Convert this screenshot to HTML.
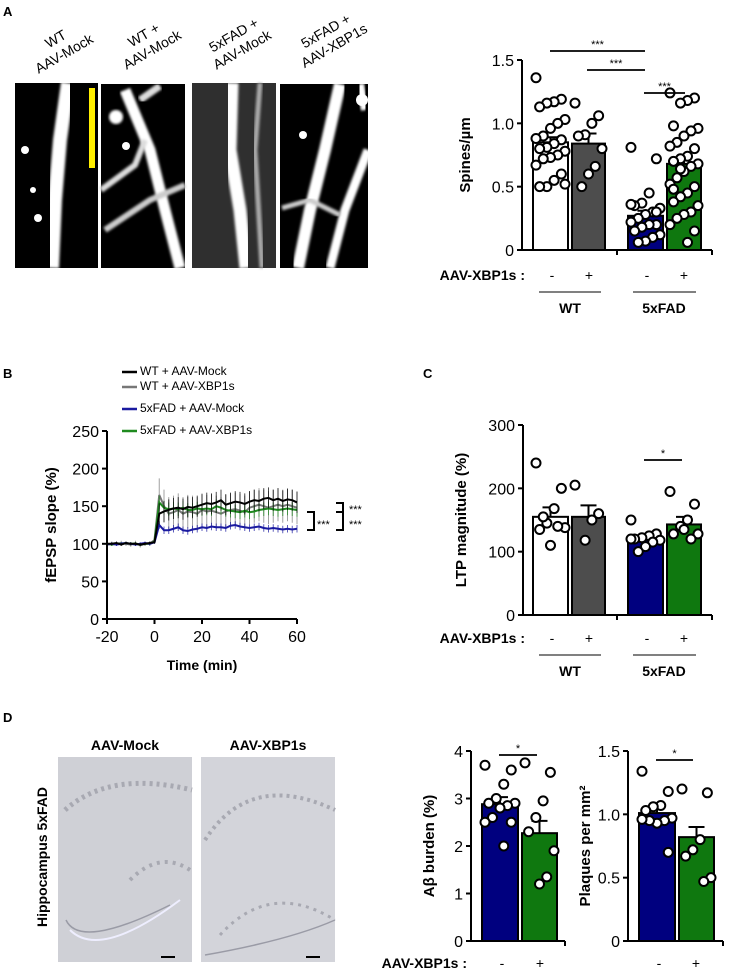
<!DOCTYPE html>
<html><head><meta charset="utf-8"><style>
body{margin:0;background:#fff}
svg{display:block;font-family:"Liberation Sans",Arial,sans-serif}
</style></head><body>
<svg id="fig" width="729" height="973" viewBox="0 0 729 973" xmlns="http://www.w3.org/2000/svg">
<defs><filter id="bl" x="-10%" y="-10%" width="120%" height="120%"><feGaussianBlur stdDeviation="1.2"/></filter></defs>
<text x="3" y="16" font-size="13" font-weight="bold">A</text>
<text x="3" y="378" font-size="13" font-weight="bold">B</text>
<text x="423" y="378" font-size="13" font-weight="bold">C</text>
<text x="3" y="722" font-size="13" font-weight="bold">D</text>

<g font-size="14">
<text transform="translate(62,50) rotate(-30)" text-anchor="middle"><tspan x="0" dy="-8">WT</tspan><tspan x="0" dy="17">AAV-Mock</tspan></text>
<text transform="translate(150,46) rotate(-30)" text-anchor="middle"><tspan x="0" dy="-8">WT +</tspan><tspan x="0" dy="17">AAV-Mock</tspan></text>
<text transform="translate(240,46) rotate(-30)" text-anchor="middle"><tspan x="0" dy="-8">5xFAD +</tspan><tspan x="0" dy="17">AAV-Mock</tspan></text>
<text transform="translate(332,42) rotate(-30)" text-anchor="middle"><tspan x="0" dy="-8">5xFAD +</tspan><tspan x="0" dy="17">AAV-XBP1s</tspan></text>
</g>
<g>
<rect x="15" y="83" width="83" height="185" fill="#000"/>
<path d="M68 83 L60 140 L55 200 L52 268" stroke="#fff" stroke-width="14" fill="none" filter="url(#bl)"/>
<circle cx="25" cy="150" r="4" fill="#fff"/><circle cx="33" cy="190" r="3" fill="#fff"/><circle cx="38" cy="218" r="4" fill="#fff"/>
<rect x="89" y="88" width="6" height="80" fill="#ffee00"/>
</g>
<g>
<rect x="101" y="84" width="84" height="184" fill="#000"/>
<path d="M125 90 L150 150 L165 210 L180 268" stroke="#fff" stroke-width="11" fill="none" filter="url(#bl)"/>
<path d="M101 190 L135 165 L145 140" stroke="#ddd" stroke-width="6" fill="none" filter="url(#bl)"/>
<path d="M105 230 L150 200 L185 185" stroke="#ccc" stroke-width="6" fill="none" filter="url(#bl)"/>
<path d="M140 100 L160 86" stroke="#ddd" stroke-width="7" fill="none" filter="url(#bl)"/>
<circle cx="116" cy="117" r="7" fill="#fff" filter="url(#bl)"/><circle cx="126" cy="146" r="4" fill="#fff"/>
</g>
<g>
<rect x="192" y="83" width="84" height="185" fill="#111"/>
<rect x="192" y="83" width="84" height="185" fill="#777" opacity="0.3"/>
<path d="M232 83 L230 150 L240 210 L246 268" stroke="#fff" stroke-width="13" fill="none" filter="url(#bl)"/>
<path d="M260 83 L255 150 L262 268" stroke="#aaa" stroke-width="5" fill="none" filter="url(#bl)"/>
</g>
<g>
<rect x="280" y="84" width="88" height="184" fill="#000"/>
<path d="M340 84 L325 150 L310 210 L298 268" stroke="#fff" stroke-width="12" fill="none" filter="url(#bl)"/>
<path d="M368 150 L345 210 L330 268" stroke="#fff" stroke-width="9" fill="none" filter="url(#bl)"/>
<path d="M360 84 L365 110" stroke="#fff" stroke-width="8" fill="none" filter="url(#bl)"/>
<circle cx="303" cy="135" r="4" fill="#fff"/><circle cx="362" cy="100" r="6" fill="#fff"/>
<path d="M282 208 L310 200 L340 215" stroke="#ccc" stroke-width="5" fill="none" filter="url(#bl)"/>
</g>

<text x="125" y="750" font-size="14" font-weight="bold" text-anchor="middle">AAV-Mock</text>
<text x="268" y="750" font-size="14" font-weight="bold" text-anchor="middle">AAV-XBP1s</text>
<text transform="translate(47,857) rotate(-90)" font-size="14" font-weight="bold" text-anchor="middle">Hippocampus 5xFAD</text>
<g>
<rect x="58" y="757" width="134" height="205" fill="#cfd0d6"/>
<path d="M65 810 Q110 770 192 790" stroke="#a8a9b2" stroke-width="5" fill="none" stroke-dasharray="3 4"/>
<path d="M130 880 Q160 850 190 870" stroke="#a8a9b2" stroke-width="4" fill="none" stroke-dasharray="3 5"/>
<path d="M70 930 Q100 960 180 900" stroke="#eef" stroke-width="2" fill="none"/>
<path d="M66 920 Q80 950 170 905" stroke="#9a9ba6" stroke-width="1.5" fill="none"/>
<rect x="161" y="956" width="14" height="2" fill="#000"/>
</g>
<g>
<rect x="201" y="757" width="134" height="205" fill="#d3d4da"/>
<path d="M205 840 Q250 770 335 810" stroke="#a8a9b2" stroke-width="4" fill="none" stroke-dasharray="3 4"/>
<path d="M220 935 Q270 880 335 920" stroke="#a8a9b2" stroke-width="3" fill="none" stroke-dasharray="3 5"/>
<path d="M205 955 Q290 940 335 920" stroke="#9a9ba6" stroke-width="1.5" fill="none"/>
<rect x="306" y="956" width="14" height="2" fill="#000"/>
</g>
<g id="charts"></g>
</svg>
<script>
const aCategories = ["WT-Mock","WT-XBP1s","5xFAD-Mock","5xFAD-XBP1s"];
const aMeans = [0.85, 0.84, 0.27, 0.68];
const aSems = [0.04, 0.08, 0.04, 0.05];
const aDotsWT = [1.36,1.19,1.17,1.16,1.13,1.03,1.0,0.96,0.9,0.88,0.87,0.84,0.81,0.8,0.78,0.75,0.73,0.72,0.67,0.6,0.55,0.5,0.5,0.52];
const aDotsWTX = [1.16,1.06,1.0,0.91,0.9,0.8,0.66,0.6,0.5];
const aDotsFAD = [0.81,0.72,0.45,0.37,0.35,0.33,0.3,0.28,0.25,0.22,0.2,0.2,0.18,0.15,0.12,0.1,0.07,0.06,0.36,0.3];
const aDotsFADX = [1.24,1.2,1.18,1.16,0.98,0.96,0.94,0.9,0.85,0.82,0.8,0.74,0.72,0.7,0.68,0.66,0.62,0.57,0.52,0.5,0.45,0.42,0.38,0.35,0.3,0.28,0.25,0.2,0.15,0.06,0.64,0.48];
const aTicks = ["0","0.5","1.0","1.5"];
const aTickVals = [0, 0.5, 1.0, 1.5];
const cMeans = [155, 155, 120, 143];
const cSems = [15, 18, 6, 12];
const cDotsWT = [240,200,168,145,135,138,140,110,155];
const cDotsWTX = [205,160,150,118];
const cDotsFAD = [150,128,125,122,120,118,115,108,100,120];
const cDotsFADX = [195,175,150,140,128,128,120,135];
const cTicks = ["0","100","200","300"];
const cTickVals = [0, 100, 200, 300];
const dAbMeans = [2.88, 2.27];
const dAbSems = [0.15, 0.26];
const dAbDotsMock = [3.7,3.6,3.3,3.0,2.9,2.9,2.85,2.8,2.6,2.5,2.5,2.0];
const dAbDotsX = [3.75,3.55,2.95,2.6,2.3,1.9,1.35,1.2];
const dAbTicks = ["0","1","2","3","4"];
const dAbTickVals = [0,1,2,3,4];
const dPlMeans = [1.01, 0.82];
const dPlSems = [0.06, 0.08];
const dPlDotsMock = [1.34,1.18,1.07,1.06,1.03,0.97,0.95,0.93,0.95,0.96,0.7];
const dPlDotsX = [1.2,1.17,0.8,0.72,0.67,0.5,0.47];
const dPlTicks = ["0","0.5","1.0","1.5"];
const dPlTickVals = [0,0.5,1.0,1.5];
const bTime = [-20,-18,-16,-14,-12,-10,-8,-6,-4,-2,0,2,4,6,8,10,12,14,16,18,20,22,24,26,28,30,32,34,36,38,40,42,44,46,48,50,52,54,56,58,60];
const bWTMock = [100,100,101,99,101,100,100,99,100,101,102,140,143,145,147,148,146,149,148,150,152,154,153,155,158,152,154,156,155,153,156,158,157,160,161,158,160,157,159,158,155];
const bWTXbp = [99,100,100,101,100,99,101,98,100,100,105,165,150,140,142,145,140,143,142,140,145,143,144,142,140,143,145,146,144,142,148,150,152,150,148,150,152,150,152,150,148];
const bFADMock = [99,100,99,100,101,100,99,100,101,100,102,125,118,118,120,122,118,117,119,120,122,121,123,122,122,121,124,125,123,122,121,122,123,121,120,121,120,119,120,119,120];
const bFADXbp = [100,99,100,100,101,100,100,99,100,100,103,155,148,146,147,146,148,145,145,147,146,147,146,150,148,145,144,143,142,144,142,143,145,146,147,146,145,146,147,146,145];
const bSemWTMock = [2, 14];
const bSemWTXbp = [3, 22];
const bSemFADMock = [2, 5];
const bSemFADXbp = [2, 9];
const bXTicks = ["-20","0","20","40","60"];
const bXTickVals = [-20,0,20,40,60];
const bYTicks = ["0","50","100","150","200","250"];
const bYTickVals = [0,50,100,150,200,250];

const NS="http://www.w3.org/2000/svg";
const root=document.getElementById('charts');
function mk(tag,attrs,parent){const e=document.createElementNS(NS,tag);for(const k in attrs)e.setAttribute(k,attrs[k]);(parent||root).appendChild(e);return e;}
function txt(s,attrs,parent){const e=mk('text',attrs,parent);e.textContent=s;return e;}

function barChart(o){
  const g=mk('g',{});
  
  
  const ys=v=>o.y0-(v/o.max)*(o.y0-o.yTop);
  o.means.forEach((m,i)=>{
    const [x1,x2]=o.bars[i];
    const r=mk('rect',{x:x1,y:ys(m),width:x2-x1,height:o.y0-ys(m),fill:o.colors[i],stroke:'#000','stroke-width':2},g);
    
    
    const cx=(x1+x2)/2;
    const eb=mk('path',{d:`M${cx} ${ys(m)} V${ys(m+o.sems[i])} M${cx-8} ${ys(m+o.sems[i])} H${cx+8}`,stroke:'#000','stroke-width':2,fill:'none'},g);
    
    
  });
  o.dots.forEach((arr,i)=>{
    const [x1,x2]=o.bars[i];const cx=(x1+x2)/2;const w=(x2-x1)/2-3;
    arr.forEach((v,j)=>{
      const off=(((j*7)%9)-4)/4*w;
      const c=mk('circle',{cx:cx+off,cy:ys(v),r:4.5,fill:'#fff',stroke:'#000','stroke-width':2},g);
      
      
    });
  });
  mk('path',{d:`M${o.ax} ${o.yTop} V${o.y0+1}`,stroke:'#000','stroke-width':2,fill:'none'},g);
  o.xSegs.forEach(s=>mk('path',{d:`M${s[0]} ${o.y0} H${s[1]} M${s[1]} ${o.y0} v5`,stroke:'#000','stroke-width':2,fill:'none'},g));
  o.tickVals.forEach((v,i)=>{
    mk('path',{d:`M${o.ax-5} ${ys(v)} H${o.ax}`,stroke:'#000','stroke-width':2},g);
    const t=txt(o.ticks[i],{x:o.ax-8,y:ys(v)+6,'font-size':16,'text-anchor':'end'},g);
    
    
  });
  const tt=txt(o.title,{transform:`translate(${o.titleX},${(o.y0+o.yTop)/2}) rotate(-90)`,'font-size':15,'font-weight':'bold','text-anchor':'middle'},g);
  
  
  return g;
}

barChart({name:'spines-chart',ax:522,y0:250,yTop:60,max:1.5,ticks:aTicks,tickVals:aTickVals,
  bars:[[533,568],[572,605],[628,663],[667,701]],means:aMeans,sems:aSems,
  dots:[aDotsWT,aDotsWTX,aDotsFAD,aDotsFADX],colors:['#fff','#4d4d4d','#00007f','#0f780f'],
  xSegs:[[522,617],[617,712]],title:'Spines/µm',titleX:470});
barChart({name:'ltp-magnitude-chart',ax:523,y0:615,yTop:425,max:300,ticks:cTicks,tickVals:cTickVals,
  bars:[[533,568],[572,605],[628,663],[667,701]],means:cMeans,sems:cSems,
  dots:[cDotsWT,cDotsWTX,cDotsFAD,cDotsFADX],colors:['#fff','#4d4d4d','#00007f','#0f780f'],
  xSegs:[[523,617],[617,712]],title:'LTP magnitude (%)',titleX:466});
barChart({name:'abeta-burden-chart',ax:471,y0:941,yTop:751,max:4,ticks:dAbTicks,tickVals:dAbTickVals,
  bars:[[482,518],[522,557]],means:dAbMeans,sems:dAbSems,dots:[dAbDotsMock,dAbDotsX],colors:['#00007f','#0f780f'],
  xSegs:[[471,565]],title:'Aβ burden (%)',titleX:434});
barChart({name:'plaques-chart',ax:628,y0:941,yTop:751,max:1.5,ticks:dPlTicks,tickVals:dPlTickVals,
  bars:[[639,675],[679,714]],means:dPlMeans,sems:dPlSems,dots:[dPlDotsMock,dPlDotsX],colors:['#00007f','#0f780f'],
  xSegs:[[628,723]],title:'Plaques per mm²',titleX:590});

function groupLabels(yLab,yLine,yGrp,withGroups){
  const g=mk('g',{});
  
  
  txt('AAV-XBP1s :',{x:525,y:yLab,'font-size':14,'font-weight':'bold','text-anchor':'end'},g);
  [['-',552],['+',589],['-',647],['+',684]].forEach(p=>txt(p[0],{x:p[1],y:yLab,'font-size':14,'text-anchor':'middle'},g));
  if(withGroups){
    mk('path',{d:`M539 ${yLine} H601 M633 ${yLine} H696`,stroke:'#000','stroke-width':1},g);
    txt('WT',{x:570,y:yGrp,'font-size':14,'font-weight':'bold','text-anchor':'middle'},g);
    txt('5xFAD',{x:664,y:yGrp,'font-size':14,'font-weight':'bold','text-anchor':'middle'},g);
  }
}
groupLabels(280,292,313,true);
groupLabels(643,655,676,true);
(function(){const g=mk('g',{});
  
  
  txt('AAV-XBP1s :',{x:467,y:968,'font-size':14,'font-weight':'bold','text-anchor':'end'},g);
  [['-',502],['+',540],['-',659],['+',696]].forEach(p=>txt(p[0],{x:p[1],y:968,'font-size':14,'text-anchor':'middle'},g));
})();
function sig(x1,x2,y,label){
  const g=mk('g',{});
  
  
  mk('path',{d:`M${x1} ${y} H${x2}`,stroke:'#000','stroke-width':1.8},g);
  txt(label,{x:(x1+x2)/2,y:y-3,'font-size':11,'text-anchor':'middle'},g);
}
sig(550,645,51,'***');sig(587,645,70,'***');sig(644,685,93,'***');
sig(644,682,460,'*');
sig(499,537,755,'*');sig(656,693,760,'*');

(function(){
  const g=mk('g',{});
  
  
  const X0=107,X1=297,Y0=619,Y1=431;
  const xs=t=>X0+(t+20)/80*(X1-X0);
  const ys=v=>Y0-v/250*(Y0-Y1);
  const series=[[bWTXbp,bSemWTXbp,'#777','wt-xbp1s-line'],[bFADXbp,bSemFADXbp,'#1f8a1f','5xfad-xbp1s-line'],[bFADMock,bSemFADMock,'#1a1aa0','5xfad-mock-line'],[bWTMock,bSemWTMock,'#000','wt-mock-line']];
  series.forEach(([vals,sem,col,nm])=>{
    const sg=mk('g',{},g);
    
    
    let eb='';
    vals.forEach((v,i)=>{const s=bTime[i]<=0?sem[0]:sem[1];eb+=`M${xs(bTime[i])} ${ys(v-s)} V${ys(v+s)} `;});
    mk('path',{d:eb,stroke:col,'stroke-width':1,fill:'none',opacity:0.7},sg);
    mk('polyline',{points:vals.map((v,i)=>xs(bTime[i])+','+ys(v)).join(' '),stroke:col,'stroke-width':2,fill:'none'},sg);
  });
  mk('path',{d:`M${X0} ${Y1} V${Y0} H${X1}`,stroke:'#000','stroke-width':2,fill:'none'},g);
  bYTickVals.forEach((v,i)=>{mk('path',{d:`M${X0-5} ${ys(v)} H${X0}`,stroke:'#000','stroke-width':2},g);
    txt(bYTicks[i],{x:X0-8,y:ys(v)+6,'font-size':16,'text-anchor':'end'},g);});
  bXTickVals.forEach((v,i)=>{mk('path',{d:`M${xs(v)} ${Y0} v5`,stroke:'#000','stroke-width':2},g);
    txt(bXTicks[i],{x:xs(v),y:Y0+23,'font-size':16,'text-anchor':'middle'},g);});
  const yt=txt('fEPSP slope (%)',{transform:`translate(56,${(Y0+Y1)/2}) rotate(-90)`,'font-size':15,'font-weight':'bold','text-anchor':'middle'},g);
  
  
  const xt=txt('Time (min)',{x:202,y:670,'font-size':14,'font-weight':'bold','text-anchor':'middle'},g);
  
  
  [['WT + AAV-Mock','#000',370],['WT + AAV-XBP1s','#777',385],['5xFAD + AAV-Mock','#1a1aa0',407],['5xFAD + AAV-XBP1s','#1f8a1f',429]].forEach(l=>{
    const lg=mk('g',{},g);
    
    
    mk('path',{d:`M122 ${l[2]+2} H137`,stroke:l[1],'stroke-width':2.5},lg);
    txt(l[0],{x:140,y:l[2]+5,'font-size':12},lg);
  });
  mk('path',{d:'M307 512 H314 V530 H307',stroke:'#000','stroke-width':2,fill:'none'},g);
  txt('***',{x:317,y:528,'font-size':11},g);
  mk('path',{d:'M336 503 H343 V530 H336 M336 512 H343',stroke:'#000','stroke-width':2,fill:'none'},g);
  txt('***',{x:349,y:513,'font-size':11},g);
  txt('***',{x:349,y:528,'font-size':11},g);
})();
</script>
</body></html>
